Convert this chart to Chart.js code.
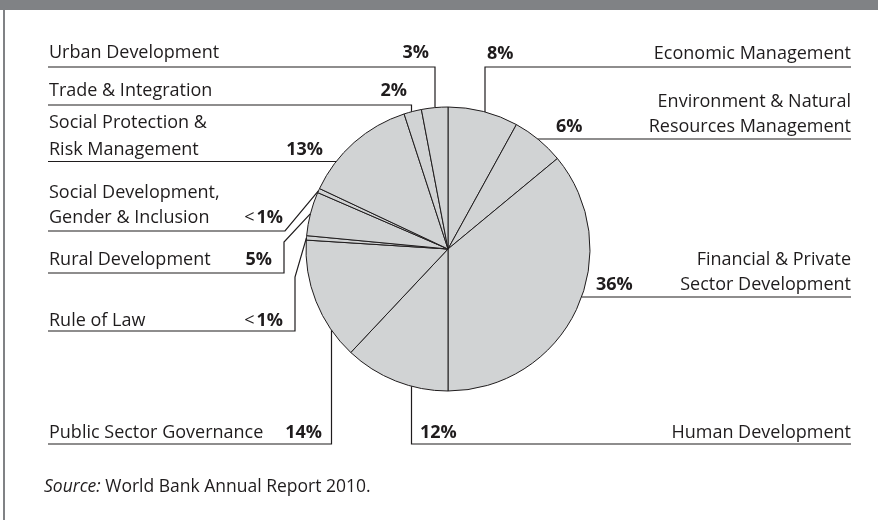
<!DOCTYPE html>
<html>
<head>
<meta charset="utf-8">
<script src="https://cdn.jsdelivr.net/npm/chart.js@4.4.1/dist/chart.umd.min.js"></script>
<style>
  html, body { margin: 0; padding: 0; background: #fff; }
  #wrap { width: 878px; height: 520px; }
</style>
</head>
<body>
<div id="wrap"><canvas id="sectorPie" width="878" height="520"></canvas></div>
<script>
// Lending by sector, clockwise from 12 o'clock
const sectors = [
  'Economic Management',
  'Environment & Natural Resources Management',
  'Financial & Private Sector Development',
  'Human Development',
  'Public Sector Governance',
  'Rule of Law',
  'Rural Development',
  'Social Development, Gender & Inclusion',
  'Social Protection & Risk Management',
  'Trade & Integration',
  'Urban Development'
];
const shares = [8, 6, 36, 12, 14, 0.5, 5, 0.5, 13, 2, 3];
const shareLabels = ['8%', '6%', '36%', '12%', '14%', '<1%', '5%', '<1%', '13%', '2%', '3%'];
const sectorLines = [
  ['Economic Management'],
  ['Environment & Natural', 'Resources Management'],
  ['Financial & Private', 'Sector Development'],
  ['Human Development'],
  ['Public Sector Governance'],
  ['Rule of Law'],
  ['Rural Development'],
  ['Social Development,', 'Gender & Inclusion'],
  ['Social Protection &', 'Risk Management'],
  ['Trade & Integration'],
  ['Urban Development']
];
const sourceNote = ['Source:', ' World Bank Annual Report 2010.'];

const INK = '#1f1c1d';
const FRAME = '#808285';
const FONT = '"Open Sans", "Noto Sans", sans-serif';
const LEFT_X = 48;
const RIGHT_X = 851;

// where each callout sits and how its leader reaches the pie
const callouts = [
  { side: 'right', base: [59], pctX: 487, lineY: 67, lineX: 485, leader: 'drop' },
  { side: 'right', base: [107, 132], pctX: 556, lineY: 139, leader: 'flat' },
  { side: 'right', base: [265, 290], pctX: 596, lineY: 297, leader: 'flat' },
  { side: 'right', base: [438], pctX: 420, lineY: 444, lineX: 411.5, leader: 'drop' },
  { side: 'left', base: [438], pctX: 322, lineY: 444, lineX: 331.5, leader: 'drop' },
  { side: 'left', base: [326], pctX: 283, lineY: 331, lineX: 295, kneeY: 277, leader: 'knee' },
  { side: 'left', base: [265], pctX: 272, lineY: 273, lineX: 284, kneeY: 242, leader: 'knee' },
  { side: 'left', base: [198, 223], pctX: 283, lineY: 231, lineX: 285, leader: 'diag' },
  { side: 'left', base: [128, 155], pctX: 323, lineY: 161.5, leader: 'flat' },
  { side: 'left', base: [96], pctX: 407, lineY: 105, lineX: 411.5, leader: 'drop' },
  { side: 'left', base: [58], pctX: 429, lineY: 67, lineX: 435, leader: 'drop' }
];

function drawShare(ctx, text, x, y, align) {
  // "<1%": the less-than sign is set in the regular weight
  const boldFont = 'bold 18px ' + FONT;
  const plainFont = '18px ' + FONT;
  let lead = '', rest = text;
  if (text.startsWith('<')) { lead = '<'; rest = text.slice(1); }
  ctx.font = boldFont;
  const restW = ctx.measureText(rest).width;
  ctx.font = plainFont;
  const leadW = lead ? ctx.measureText(lead).width + 2 : 0;
  const x0 = align === 'right' ? x - restW - leadW : x;
  ctx.textAlign = 'left';
  if (lead) { ctx.font = plainFont; ctx.fillText(lead, x0, y); }
  ctx.font = boldFont;
  ctx.fillText(rest, x0 + leadW, y);
}

const calloutPlugin = {
  id: 'callouts',
  beforeDraw(chart) {
    const ctx = chart.ctx;
    ctx.save();
    ctx.fillStyle = FRAME;
    ctx.fillRect(0, 0, chart.width, 10);
    ctx.fillRect(3, 10, 2, chart.height - 10);
    ctx.restore();
  },
  afterDraw(chart) {
    const ctx = chart.ctx;
    const arcs = chart.getDatasetMeta(0).data;
    const cx = arcs[0].x, cy = arcs[0].y, r = arcs[0].outerRadius;
    ctx.save();
    ctx.strokeStyle = INK;
    ctx.fillStyle = INK;
    ctx.lineWidth = 1.2;
    ctx.textBaseline = 'alphabetic';

    callouts.forEach((c, i) => {
      const arc = arcs[i];
      const mid = (arc.startAngle + arc.endAngle) / 2;
      const tip = [cx + r * Math.cos(mid), cy + r * Math.sin(mid)];
      const sx = c.side === 'left' ? -1 : 1;
      const start = c.side === 'left' ? LEFT_X : RIGHT_X;
      const pts = [[start, c.lineY]];
      if (c.leader === 'flat') {
        const dy = c.lineY - cy;
        pts.push([cx + sx * Math.sqrt(r * r - dy * dy), c.lineY]);
      } else if (c.leader === 'drop') {
        const dx = c.lineX - cx;
        const sy = c.lineY < cy ? -1 : 1;
        pts.push([c.lineX, c.lineY], [c.lineX, cy + sy * Math.sqrt(r * r - dx * dx)]);
      } else if (c.leader === 'diag') {
        pts.push([c.lineX, c.lineY], tip);
      } else if (c.leader === 'knee') {
        pts.push([c.lineX, c.lineY], [c.lineX, c.kneeY], tip);
      }
      ctx.beginPath();
      ctx.moveTo(pts[0][0], pts[0][1]);
      pts.slice(1).forEach(p => ctx.lineTo(p[0], p[1]));
      ctx.stroke();

      ctx.font = '18px ' + FONT;
      ctx.textAlign = c.side;
      sectorLines[i].forEach((line, k) => {
        ctx.fillText(line, c.side === 'left' ? LEFT_X + 1 : RIGHT_X, c.base[k]);
      });
      const pctY = c.base[c.base.length - 1];
      drawShare(ctx, shareLabels[i], c.pctX, pctY, c.side === 'left' ? 'right' : 'left');
    });

    // source line
    ctx.textAlign = 'left';
    ctx.font = 'italic 17.5px ' + FONT;
    ctx.fillText(sourceNote[0], 44, 492);
    const w = ctx.measureText(sourceNote[0]).width;
    ctx.font = '17.5px ' + FONT;
    ctx.fillText(sourceNote[1], 44 + w, 492);
    ctx.restore();
  }
};

new Chart(document.getElementById('sectorPie'), {
  type: 'pie',
  data: {
    labels: sectors,
    datasets: [{
      data: shares,
      backgroundColor: '#d1d3d4',
      borderColor: INK,
      borderWidth: 1,
      hoverOffset: 0,
      radius: 142
    }]
  },
  options: {
    responsive: false,
    animation: false,
    events: [],
    layout: {
      padding: { left: 306, right: 288, top: 107, bottom: 129 }
    },
    plugins: {
      legend: { display: false },
      tooltip: { enabled: false }
    }
  },
  plugins: [calloutPlugin]
});
</script>
</body>
</html>
